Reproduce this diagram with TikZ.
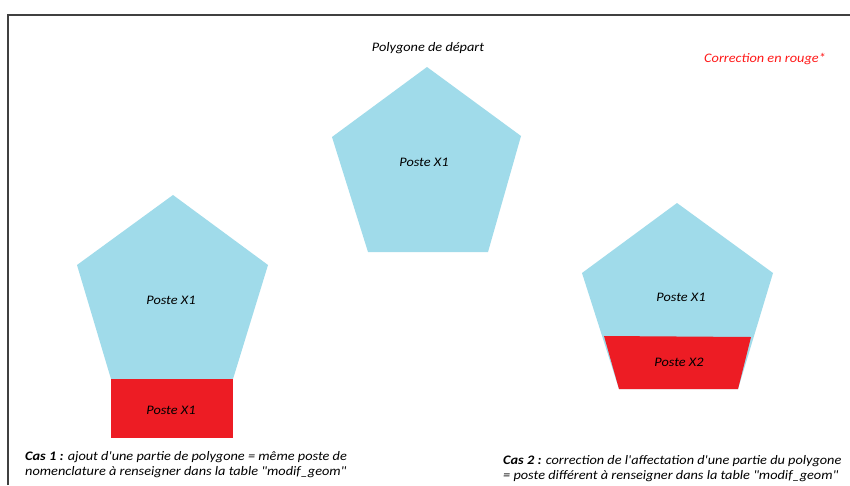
\documentclass[tikz,border=0pt]{standalone}
\usepackage{fontspec}
\setmainfont{Carlito}
\newfontfamily\calib[FakeStretch=1.1]{Carlito}
\definecolor{polyblue}{HTML}{A0DBEA}
\definecolor{polyred}{HTML}{ED1C24}
\definecolor{framegray}{HTML}{404040}
\definecolor{notered}{HTML}{FF1A1A}
\begin{document}
\begin{tikzpicture}[x=1pt,y=-1pt,
  lbl/.style={font=\calib\fontsize{13}{15}\selectfont\itshape, inner sep=0pt, anchor=base},
  note/.style={font=\calib\fontsize{13}{15}\selectfont\itshape, inner sep=0pt, anchor=base west}]
\useasboundingbox (0,0) rectangle (850,485);
\fill[white] (0,0) rectangle (850,485);
% frame
\draw[framegray, line width=1.5pt] (8,485) -- (8,15) -- (851,15);
% central pentagon
\fill[polyblue] (427,67) -- (521,136) -- (488,252) -- (368,252) -- (332,137) -- cycle;
\node[lbl] (c1) at (424,166) {Poste X1};
\node[lbl] (title) at (428,51) {Polygone de départ};
\node[lbl, text=notered] (corr) at (765,62) {Correction en rouge*};
% left pentagon
\fill[polyblue] (173,195) -- (268,265) -- (233,379) -- (111,379) -- (77,265) -- cycle;
\fill[polyred] (111,379) rectangle (233,438);
\node[lbl] (l1) at (171,304) {Poste X1};
\node[lbl] (l2) at (171,414) {Poste X1};
% right pentagon
\fill[polyblue] (677,203) -- (773,273) -- (738,389) -- (619,389) -- (582,273) -- cycle;
\fill[polyred] (604,336) -- (751,337) -- (738,389) -- (619,389) -- cycle;
\node[lbl] (r1) at (681,301) {Poste X1};
\node[lbl] (r2) at (679,366) {Poste X2};
% notes
\node[note] (cas1a) at (25,460) {\textbf{Cas 1 :} ajout d'une partie de polygone = même poste de};
\node[note] (cas1b) at (25,475) {nomenclature à renseigner dans la table "modif\_geom"};
\node[note] (cas2a) at (503,464) {\textbf{Cas 2 :} correction de l'affectation d'une partie du polygone};
\node[note] (cas2b) at (503,479) {= poste différent à renseigner dans la table "modif\_geom"};
\end{tikzpicture}
\end{document}
